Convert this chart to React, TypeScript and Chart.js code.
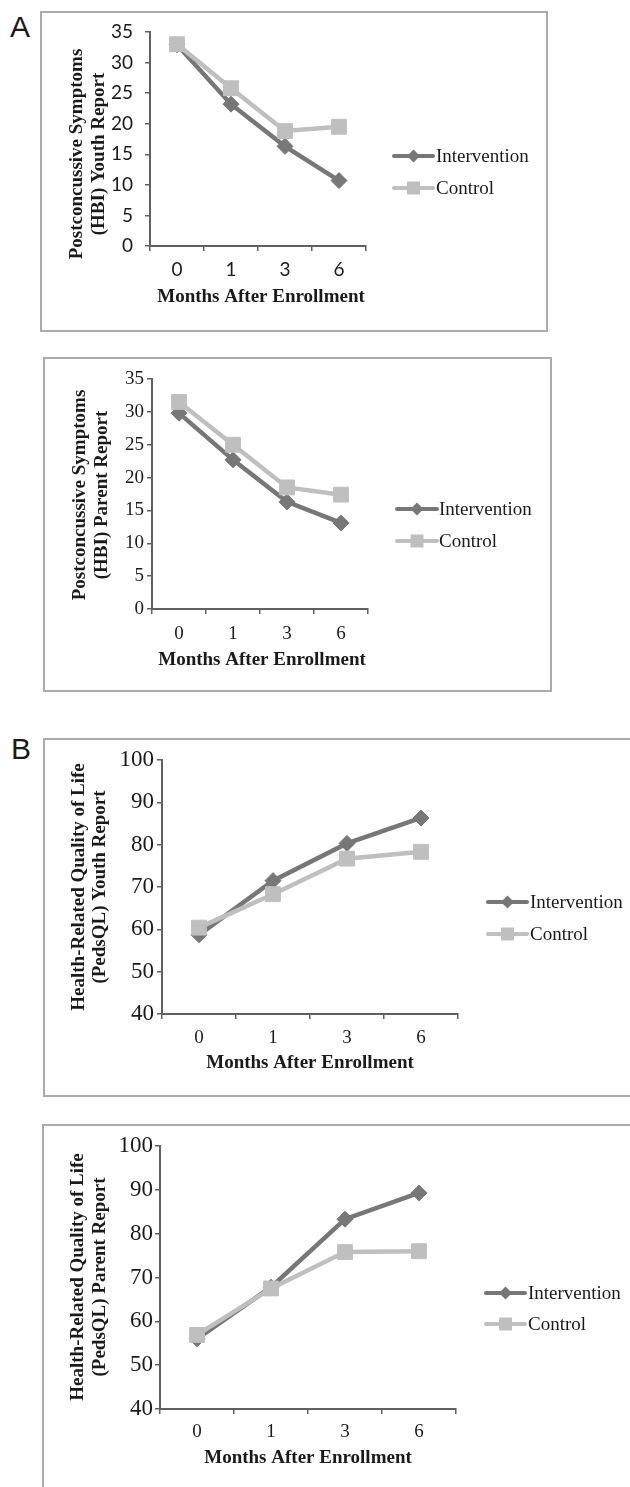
import React, { useEffect, useRef } from 'react';
import { Chart, registerables } from 'chart.js';

Chart.register(...registerables);

// ---------- data ----------
const months = ['0', '1', '3', '6'];
const seriesNames = ['Intervention', 'Control'];

const hbiYouthIntervention = [32.9, 23.2, 16.3, 10.7];
const hbiYouthControl = [33.0, 25.8, 18.8, 19.5];

const hbiParentIntervention = [29.8, 22.7, 16.3, 13.1];
const hbiParentControl = [31.5, 25.0, 18.5, 17.4];

const pedsYouthIntervention = [58.7, 71.5, 80.3, 86.3];
const pedsYouthControl = [60.4, 68.3, 76.7, 78.3];

const pedsParentIntervention = [56.0, 67.8, 83.3, 89.3];
const pedsParentControl = [56.9, 67.5, 75.8, 76.0];

const hbiRange = [0, 35, 5];
const pedsRange = [40, 100, 10];

const xTitle = 'Months After Enrollment';
const hbiYouthTitle = ['Postconcussive Symptoms', '(HBI) Youth Report'];
const hbiParentTitle = ['Postconcussive Symptoms', '(HBI) Parent Report'];
const pedsYouthTitle = ['Health-Related Quality of Life', '(PedsQL) Youth Report'];
const pedsParentTitle = ['Health-Related Quality of Life', '(PedsQL) Parent Report'];

// ---------- style ----------
const INT_COLOR = '#777777';
const CTRL_COLOR = '#bfbfbf';
const AXIS_COLOR = '#606060';
const TEXT_COLOR = '#1a1a1a';
const BOX_COLOR = '#ababab';
const SERIF = '"Liberation Serif", "Times New Roman", serif';
const SANS = 'Lato, "Open Sans", sans-serif';
const FONT_SIZE = 19;
const TICK_LEN = 5;
const X_AXIS_H = 40;
const PAGE_W = 630;
const PAGE_H = 1487;

type PanelDef = {
  id: string;
  box: { l: number; t: number; r: number; b: number };
  area: { l: number; r: number; t: number; b: number };
  title: string[];
  titleX: number[];
  titleY: number;
  xTitlePos: { x: number; y: number };
  xTickY: number;
  yTickRight: number;
  legend: { x0: number; x1: number; tx: number; y: number[] };
  tickFont: string;
  yTickSize: number;
  intervention: number[];
  control: number[];
  range: number[];
};

const panels: PanelDef[] = [
  {
    id: 'a1',
    box: { l: 40, t: 11, r: 548, b: 332 },
    area: { l: 150, r: 366, t: 32, b: 246 },
    title: hbiYouthTitle,
    titleX: [77, 99],
    titleY: 154,
    xTitlePos: { x: 261, y: 297 },
    xTickY: 270,
    yTickRight: 133,
    legend: { x0: 394, x1: 433, tx: 436, y: [156, 188] },
    tickFont: SANS,
    yTickSize: 19,
    intervention: hbiYouthIntervention,
    control: hbiYouthControl,
    range: hbiRange,
  },
  {
    id: 'a2',
    box: { l: 43, t: 357, r: 552, b: 692 },
    area: { l: 152, r: 368, t: 379, b: 609 },
    title: hbiParentTitle,
    titleX: [80, 102],
    titleY: 495,
    xTitlePos: { x: 262, y: 660 },
    xTickY: 634,
    yTickRight: 144,
    legend: { x0: 397, x1: 437, tx: 439, y: [509, 541] },
    tickFont: SERIF,
    yTickSize: 19,
    intervention: hbiParentIntervention,
    control: hbiParentControl,
    range: hbiRange,
  },
  {
    id: 'b1',
    box: { l: 43, t: 738, r: 700, b: 1097 },
    area: { l: 162, r: 458, t: 760, b: 1014 },
    title: pedsYouthTitle,
    titleX: [79, 100],
    titleY: 887,
    xTitlePos: { x: 310, y: 1063 },
    xTickY: 1038,
    yTickRight: 154,
    legend: { x0: 488, x1: 527, tx: 530, y: [902, 934] },
    tickFont: SERIF,
    yTickSize: 23,
    intervention: pedsYouthIntervention,
    control: pedsYouthControl,
    range: pedsRange,
  },
  {
    id: 'b2',
    box: { l: 42, t: 1124, r: 700, b: 1700 },
    area: { l: 160, r: 456, t: 1146, b: 1409 },
    title: pedsParentTitle,
    titleX: [78, 100],
    titleY: 1277,
    xTitlePos: { x: 308, y: 1458 },
    xTickY: 1432,
    yTickRight: 153,
    legend: { x0: 486, x1: 525, tx: 528, y: [1293, 1324] },
    tickFont: SERIF,
    yTickSize: 23,
    intervention: pedsParentIntervention,
    control: pedsParentControl,
    range: pedsRange,
  },
];

function drawMarker(ctx: CanvasRenderingContext2D, style: string, x: number, y: number, r: number, color: string) {
  ctx.save();
  ctx.fillStyle = color;
  ctx.beginPath();
  if (style === 'rectRot') {
    ctx.moveTo(x, y - r);
    ctx.lineTo(x + r, y);
    ctx.lineTo(x, y + r);
    ctx.lineTo(x - r, y);
    ctx.closePath();
  } else {
    ctx.rect(x - r, y - r, 2 * r, 2 * r);
  }
  ctx.fill();
  ctx.restore();
}

const panelTextPlugin = {
  id: 'panelText',
  afterDraw(chart: any, _args: any, opts: any) {
    const p: PanelDef = opts.panel;
    if (!p) return;
    const ox = p.box.l;
    const oy = p.box.t;
    const ctx: CanvasRenderingContext2D = chart.ctx;
    ctx.save();
    ctx.fillStyle = TEXT_COLOR;
    ctx.font = `bold ${FONT_SIZE}px ${SERIF}`;
    ctx.textAlign = 'center';
    ctx.textBaseline = 'middle';
    // y-axis title (rotated, two lines)
    p.title.forEach((line, i) => {
      ctx.save();
      ctx.translate(p.titleX[i] - ox, p.titleY - oy);
      ctx.rotate(-Math.PI / 2);
      ctx.fillText(line, 0, 0);
      ctx.restore();
    });
    // x-axis title
    ctx.fillText(xTitle, p.xTitlePos.x - ox, p.xTitlePos.y - oy);
    // legend
    const colors = [INT_COLOR, CTRL_COLOR];
    const styles = ['rectRot', 'rect'];
    const sizes = [6.5, 6.5];
    ctx.font = `${FONT_SIZE}px ${SERIF}`;
    ctx.textAlign = 'left';
    seriesNames.forEach((name, i) => {
      const y = p.legend.y[i] - oy;
      ctx.save();
      ctx.strokeStyle = colors[i];
      ctx.lineWidth = 4;
      ctx.lineCap = 'round';
      ctx.beginPath();
      ctx.moveTo(p.legend.x0 - ox, y);
      ctx.lineTo(p.legend.x1 - ox, y);
      ctx.stroke();
      ctx.restore();
      drawMarker(ctx, styles[i], (p.legend.x0 + p.legend.x1) / 2 - ox, y, sizes[i], colors[i]);
      ctx.fillStyle = TEXT_COLOR;
      ctx.fillText(name, p.legend.tx - ox, y + 1);
    });
    ctx.restore();
  },
};

function PanelChart({ p }: { p: PanelDef }) {
  const ref = useRef<HTMLCanvasElement | null>(null);
  const W = Math.min(p.box.r, PAGE_W) - p.box.l;
  const H = Math.min(p.box.b, PAGE_H) - p.box.t;

  useEffect(() => {
    const canvas = ref.current;
    if (!canvas) return;
    const ox = p.box.l;
    const oy = p.box.t;
    const lineH = FONT_SIZE * 1.2;
    const xPad = p.xTickY - p.area.b - TICK_LEN - lineH / 2;
    const yPad = p.area.l - TICK_LEN - p.yTickRight;
    const [min, max, step] = p.range;

    const chart = new Chart(canvas, {
      type: 'line',
      data: {
        labels: months,
        datasets: [
          {
            label: seriesNames[0],
            data: p.intervention,
            borderColor: INT_COLOR,
            backgroundColor: INT_COLOR,
            borderWidth: 4.5,
            pointStyle: 'rectRot',
            pointRadius: 8,
            pointBorderWidth: 1,
            pointBackgroundColor: INT_COLOR,
            pointBorderColor: INT_COLOR,
            tension: 0,
            order: 1,
          },
          {
            label: seriesNames[1],
            data: p.control,
            borderColor: CTRL_COLOR,
            backgroundColor: CTRL_COLOR,
            borderWidth: 4.5,
            pointStyle: 'rect',
            pointRadius: 10.5,
            pointBorderWidth: 1,
            pointBackgroundColor: CTRL_COLOR,
            pointBorderColor: CTRL_COLOR,
            tension: 0,
            order: 0,
          },
        ],
      },
      options: {
        responsive: false,
        animation: false,
        devicePixelRatio: 1,
        events: [],
        layout: {
          padding: {
            left: 0,
            top: p.area.t - oy,
            right: W - (p.area.r - ox),
            bottom: H - (p.area.b - oy) - X_AXIS_H,
          },
        },
        plugins: {
          legend: { display: false },
          tooltip: { enabled: false },
          title: { display: false },
          panelText: { panel: p },
        } as any,
        scales: {
          x: {
            type: 'category',
            offset: true,
            grid: {
              offset: true,
              drawOnChartArea: false,
              drawTicks: true,
              tickLength: TICK_LEN,
              color: AXIS_COLOR,
              lineWidth: 1.5,
            },
            border: { display: true, color: AXIS_COLOR, width: 2 },
            ticks: {
              font: { family: p.tickFont, size: FONT_SIZE },
              color: TEXT_COLOR,
              padding: xPad,
              maxRotation: 0,
              autoSkip: false,
            },
            afterFit: (s: any) => {
              s.height = X_AXIS_H;
              s.paddingLeft = 0;
              s.paddingRight = 0;
            },
          },
          y: {
            type: 'linear',
            min,
            max,
            grid: {
              drawOnChartArea: false,
              drawTicks: true,
              tickLength: TICK_LEN,
              color: AXIS_COLOR,
              lineWidth: 1.5,
            },
            border: { display: true, color: AXIS_COLOR, width: 2 },
            ticks: {
              stepSize: step,
              font: { family: p.tickFont, size: p.yTickSize },
              color: TEXT_COLOR,
              padding: yPad,
            },
            afterFit: (s: any) => {
              s.width = p.area.l - ox;
              s.paddingTop = 0;
              s.paddingBottom = 0;
            },
          },
        },
      } as any,
      plugins: [panelTextPlugin],
    });
    return () => chart.destroy();
  }, [p, W, H]);

  return (
    <>
      <div
        style={{
          position: 'absolute',
          left: p.box.l,
          top: p.box.t,
          width: p.box.r - p.box.l,
          height: p.box.b - p.box.t,
          border: `2px solid ${BOX_COLOR}`,
          boxSizing: 'border-box',
        }}
      />
      <canvas
        ref={ref}
        width={W}
        height={H}
        style={{ position: 'absolute', left: p.box.l, top: p.box.t, width: W, height: H, display: 'block' }}
      />
    </>
  );
}

const letterStyle: React.CSSProperties = {
  position: 'absolute',
  fontFamily: '"Liberation Sans", Arial, sans-serif',
  fontSize: 30,
  lineHeight: '30px',
  color: '#1a1a1a',
};

export default function App() {
  return (
    <div
      style={{
        position: 'absolute',
        left: 0,
        top: 0,
        width: PAGE_W,
        height: PAGE_H,
        overflow: 'hidden',
        background: '#ffffff',
      }}
    >
      <div style={{ ...letterStyle, left: 10, top: 12 }}>A</div>
      <div style={{ ...letterStyle, left: 11, top: 734 }}>B</div>
      {panels.map((p) => (
        <PanelChart key={p.id} p={p} />
      ))}
    </div>
  );
}
